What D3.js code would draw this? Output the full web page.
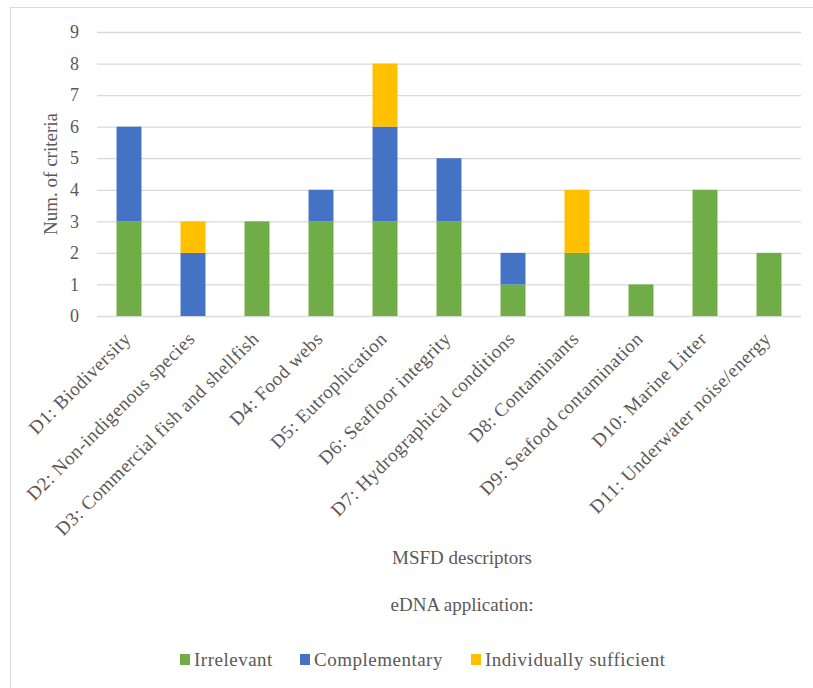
<!DOCTYPE html>
<html>
<head>
<meta charset="utf-8">
<script src="https://cdn.jsdelivr.net/npm/d3@7"></script>
<style>
  html, body { margin: 0; padding: 0; background: #fff; }
  svg text { font-family: "Liberation Serif", "Times New Roman", serif; fill: #595959; }
</style>
</head>
<body>
<svg id="chart" width="813" height="688"></svg>
<script>
// MSFD descriptors and number of criteria by eDNA application type
const categories = [
  "D1: Biodiversity",
  "D2: Non-indigenous species",
  "D3: Commercial fish and shellfish",
  "D4: Food webs",
  "D5: Eutrophication",
  "D6: Seafloor integrity",
  "D7: Hydrographical conditions",
  "D8: Contaminants",
  "D9: Seafood contamination",
  "D10: Marine Litter",
  "D11: Underwater noise/energy"
];
const irrelevant             = [3, 0, 3, 3, 3, 3, 1, 2, 1, 4, 2];
const complementary          = [3, 2, 0, 1, 3, 2, 1, 0, 0, 0, 0];
const individuallySufficient = [0, 1, 0, 0, 2, 0, 0, 2, 0, 0, 0];

const seriesNames = ["Irrelevant", "Complementary", "Individually sufficient"];
const seriesColors = ["#70AD47", "#4472C4", "#FFC000"];
const yTicks = [0, 1, 2, 3, 4, 5, 6, 7, 8, 9];

const svg = d3.select("#chart");

// outer chart frame
svg.append("rect")
  .attr("x", 10.5).attr("y", 7.5)
  .attr("width", 812).attr("height", 700)
  .attr("fill", "none").attr("stroke", "#D9D9D9").attr("stroke-width", 1);

const plot = { left: 97, right: 801, top: 32, bottom: 316 };

const x = d3.scaleBand()
  .domain(categories)
  .range([plot.left, plot.right])
  .paddingInner(0.61)
  .paddingOuter(0.305);

const y = d3.scaleLinear()
  .domain([0, 9])
  .range([plot.bottom, plot.top]);

// horizontal gridlines
svg.append("g")
  .selectAll("line")
  .data(yTicks)
  .join("line")
  .attr("x1", plot.left).attr("x2", plot.right)
  .attr("y1", d => y(d) + 0.5).attr("y2", d => y(d) + 0.5)
  .attr("stroke", "#D9D9D9").attr("stroke-width", 1.3);

// y axis tick labels
const yAxis = d3.axisLeft(y).tickValues(yTicks).tickSize(0).tickPadding(0).tickFormat(d3.format("d"));
const yg = svg.append("g").attr("transform", `translate(79,0)`).call(yAxis);
yg.select(".domain").remove();
yg.selectAll("text").style("font-size", "18px").attr("fill", "#595959")
  .style("font-family", "'Liberation Serif', serif");

// stacked bars
const rows = categories.map((c, i) => ({
  category: c,
  "Irrelevant": irrelevant[i],
  "Complementary": complementary[i],
  "Individually sufficient": individuallySufficient[i]
}));
const stacked = d3.stack().keys(seriesNames)(rows);

svg.append("g")
  .selectAll("g")
  .data(stacked)
  .join("g")
  .attr("fill", (d, i) => seriesColors[i])
  .selectAll("rect")
  .data(d => d.filter(s => s[1] - s[0] > 0))
  .join("rect")
  .attr("x", d => x(d.data.category))
  .attr("width", x.bandwidth())
  .attr("y", d => y(d[1]))
  .attr("height", d => y(d[0]) - y(d[1]));

// x axis category labels, rotated
const xAxis = d3.axisBottom(x).tickSize(0).tickPadding(0);
const xg = svg.append("g").attr("transform", `translate(0,${plot.bottom})`).call(xAxis);
xg.select(".domain").remove();
xg.selectAll("text")
  .style("font-size", "19px")
  .style("letter-spacing", "0.5px")
  .style("font-family", "'Liberation Serif', serif")
  .attr("fill", "#595959")
  .attr("text-anchor", "end")
  .attr("dy", "0")
  .attr("transform", "translate(3,24) rotate(-45)");

// axis titles
svg.append("text")
  .attr("transform", `translate(57,${(plot.top + plot.bottom) / 2}) rotate(-90)`)
  .attr("text-anchor", "middle")
  .style("font-size", "19px")
  .text("Num. of criteria");

svg.append("text")
  .attr("x", 462).attr("y", 564)
  .attr("text-anchor", "middle")
  .style("font-size", "19px")
  .text("MSFD descriptors");

svg.append("text")
  .attr("x", 462).attr("y", 611)
  .attr("text-anchor", "middle")
  .style("font-size", "19px")
  .text("eDNA application:");

// legend
const legendX = [180, 300, 471];
const legend = svg.append("g")
  .selectAll("g")
  .data(seriesNames)
  .join("g")
  .attr("transform", (d, i) => `translate(${legendX[i]},654)`);
legend.append("rect")
  .attr("width", 10).attr("height", 11)
  .attr("fill", (d, i) => seriesColors[i]);
legend.append("text")
  .attr("x", 14).attr("y", 12)
  .style("font-size", "19px")
  .style("letter-spacing", "0.5px")
  .text(d => d);
</script>
</body>
</html>
